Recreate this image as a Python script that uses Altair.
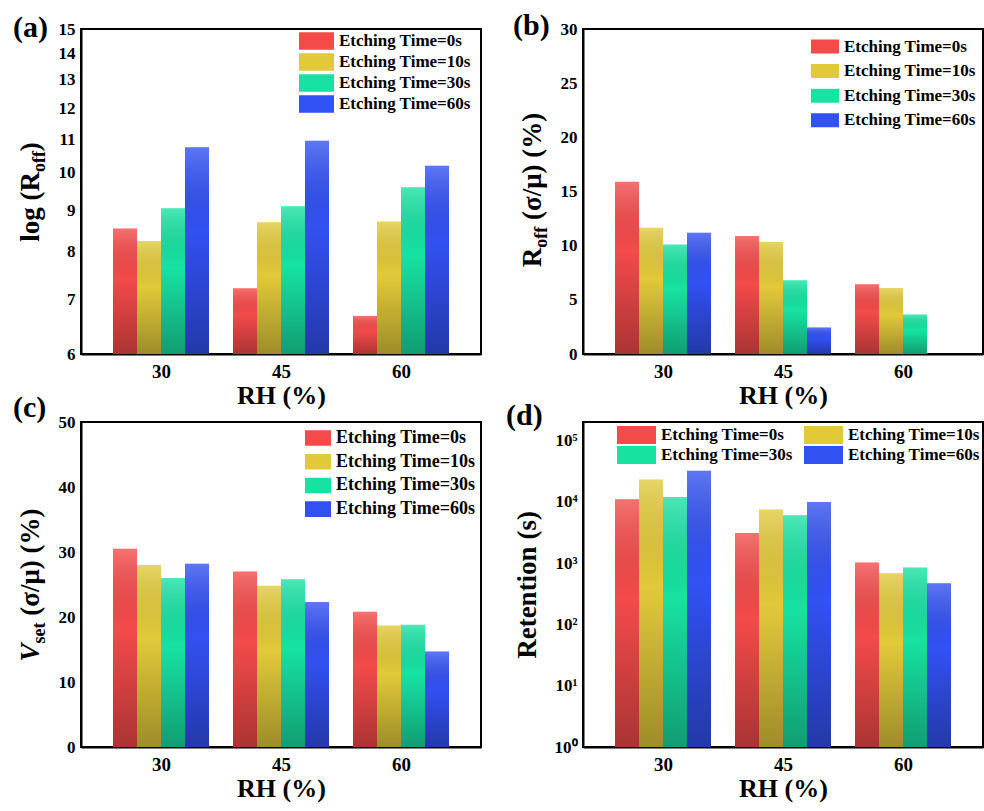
import altair as alt
import pandas as pd

FONT = "Liberation Serif"

RH = [30, 45, 60]
series = ["Etching Time=0s", "Etching Time=10s", "Etching Time=30s", "Etching Time=60s"]
colors = ["#f44a4a", "#e2c93a", "#17e2a2", "#3251f2"]

# (a) log(R_off)
a_0s = [8.55, 7.22, 6.68]
a_10s = [8.25, 8.70, 8.72]
a_30s = [9.05, 9.10, 9.60]
a_60s = [10.75, 10.95, 10.20]
a_ticks = [6, 7, 8, 9, 10, 11, 12, 13, 14, 15]

# (b) R_off (sigma/mu) (%)
b_0s = [15.9, 10.9, 6.45]
b_10s = [11.65, 10.35, 6.1]
b_30s = [10.1, 6.8, 3.65]
b_60s = [11.2, 2.45, None]
b_ticks = [0, 5, 10, 15, 20, 25, 30]

# (c) V_set (sigma/mu) (%)
c_0s = [30.5, 27.0, 20.8]
c_10s = [28.0, 24.8, 18.7]
c_30s = [26.0, 25.8, 18.8]
c_60s = [28.2, 22.3, 14.7]
c_ticks = [0, 10, 20, 30, 40, 50]

# (d) Retention (s)
d_0s = [11000, 3100, 1020]
d_10s = [23000, 7500, 680]
d_30s = [12000, 6000, 850]
d_60s = [32000, 9900, 470]
d_ticks = [1, 10, 100, 1000, 10000, 100000]

W, H = 400, 325
NB = "\u00a0"

GRAD = alt.LinearGradient(
    gradient="linear",
    stops=[
        alt.GradientStop(color="rgba(255,255,255,0.22)", offset=0),
        alt.GradientStop(color="rgba(0,0,0,0)", offset=0.4),
        alt.GradientStop(color="rgba(0,0,0,0.30)", offset=1),
    ],
    x1=0, x2=0, y1=0, y2=1,
)


def make_df(vals):
    rows = []
    for i, (name, v) in enumerate(zip(series, vals)):
        for rh, val in zip(RH, v):
            if val is not None:
                rows.append({"RH": rh, "series": name, "idx": i, "value": val})
    return pd.DataFrame(rows)


def text_layer(s, x, y, size, align="left", angle=0, italic=False):
    return alt.Chart(pd.DataFrame({"t": [s]})).mark_text(
        font=FONT, fontWeight="bold", fontSize=size, align=align,
        baseline="alphabetic", angle=angle,
        fontStyle="italic" if italic else "normal", color="black",
    ).encode(text="t:N", x=alt.value(x), y=alt.value(y))


def ytitle(pieces, center_y, base_x):
    # pieces: (text, size, em_width, baseline_shift, italic); text reads upward
    total = sum(p[1] * p[2] for p in pieces)
    pos = center_y + total / 2
    layers = []
    for text, size, em, shift, italic in pieces:
        layers.append(text_layer(text, base_x + shift, pos, size, angle=270, italic=italic))
        pos -= size * em
    return layers


def legend(x, y, size, path, clip, rowpad, fsize, cols=1, colpad=10):
    kw = dict(
        title=None, orient="none", legendX=x, legendY=y,
        symbolType=path, symbolSize=size, clipHeight=clip, rowPadding=rowpad,
        labelOffset=5, labelFont=FONT, labelFontWeight="bold", labelFontSize=fsize,
        labelColor="black", symbolStrokeWidth=0, padding=0,
    )
    if cols > 1:
        kw.update(columns=cols, columnPadding=colpad)
    return alt.Legend(**kw)


def panel(vals, yscale, yaxis, base, leg, titles, tag, tag_xy, order=(0, 1, 2, 3)):
    df = make_df(vals)
    enc = alt.Chart(df).transform_calculate(
        x0="datum.RH - 6 + datum.idx * 3",
        x1="datum.RH - 3 + datum.idx * 3",
    ).encode(
        x=alt.X("x0:Q", scale=alt.Scale(domain=[20, 70], nice=False, zero=False),
                axis=alt.Axis(values=RH, format="d", title="RH (%)")),
        x2="x1:Q",
        y=alt.Y("value:Q", scale=yscale, axis=yaxis),
        y2=alt.Y2(datum=base),
    )
    dom = [series[i] for i in order]
    rng = [colors[i] for i in order]
    bars = enc.mark_bar(strokeWidth=0).encode(
        color=alt.Color("series:N", scale=alt.Scale(domain=dom, range=rng), legend=leg)
    )
    shade = enc.mark_bar(fill=GRAD, strokeWidth=0)
    tag_layer = text_layer(tag, tag_xy[0], tag_xy[1], 30)
    return alt.layer(bars, shade, *titles, tag_layer).properties(width=W, height=H)


REST = "(σ/μ)" + NB + "(%)"

pa = panel(
    [a_0s, a_10s, a_30s, a_60s],
    alt.Scale(type="log", domain=[6, 15], nice=False),
    alt.Axis(values=a_ticks, format="d", title=None),
    6,
    legend(218, 3, 1225, "M-1,-0.5H1V0.5H-1Z", 18, 3, 17),
    ytitle([("log" + NB + "(R", 27, 2.583, 0, False), ("off", 18, 1.166, 6, False), (")", 27, 0.333, 0, False)], 163, -42),
    "(a)", (-68, 8),
)

pb = panel(
    [b_0s, b_10s, b_30s, b_60s],
    alt.Scale(domain=[0, 30], nice=False),
    alt.Axis(values=b_ticks, format="d", title=None),
    0,
    legend(228, 10, 784, "M-1,-0.5H1V0.5H-1Z", 15, 6.6, 17),
    ytitle([("R", 27, 0.722, 0, False), ("off", 18, 1.54, 6, False), (REST, 27, 3.966, 0, False)], 161, -42),
    "(b)", (-70, 6),
)

pc = panel(
    [c_0s, c_10s, c_30s, c_60s],
    alt.Scale(domain=[0, 50], nice=False),
    alt.Axis(values=c_ticks, format="d", title=None),
    0,
    legend(224, 8, 676, "M-1,-0.6H1V0.6H-1Z", 16, 5.7, 18),
    ytitle([("V", 27, 0.667, 0, True), ("set", 18, 1.54, 6, False), (REST, 27, 3.966, 0, False)], 163, -42),
    "(c)", (-68, -5),
)

pd_ = panel(
    [d_0s, d_10s, d_30s, d_60s],
    alt.Scale(type="log", domain=[1, 200000], nice=False),
    alt.Axis(values=d_ticks, title=None,
             labelExpr="'10' + ['⁰','¹','²','³','⁴','⁵'][round(log(datum.value)/LN10)]"),
    1,
    legend(34, 4, 1521, "M-1,-0.46H1V0.46H-1Z", 18, 2, 17, cols=2, colpad=11),
    ytitle([("Retention (s)", 27, 5.47, 0, False)], 163, -47),
    "(d)", (-77, 3),
    order=(0, 2, 1, 3),
)

chart = alt.concat(
    pa, pb, pc, pd_, columns=2, spacing={"row": 68, "column": 102}, bounds="flush"
).resolve_scale(
    x="independent", y="independent", color="independent"
).resolve_legend(
    color="independent"
).properties(
    padding={"left": 12, "top": 10, "right": 0, "bottom": 2},
    background="white",
).configure_axis(
    labelFont=FONT, labelFontWeight="bold", labelColor="black",
    titleFont=FONT, titleFontWeight="bold", titleColor="black",
    domainColor="black", domainWidth=2, ticks=False, grid=False,
).configure_axisX(
    labelFontSize=19, labelPadding=8, titleFontSize=26, titlePadding=1,
).configure_axisY(
    labelFontSize=17, labelPadding=6,
).configure_view(
    stroke="black", strokeWidth=2,
)

chart.save("out.html", embed_options={"renderer": "svg", "actions": False})
